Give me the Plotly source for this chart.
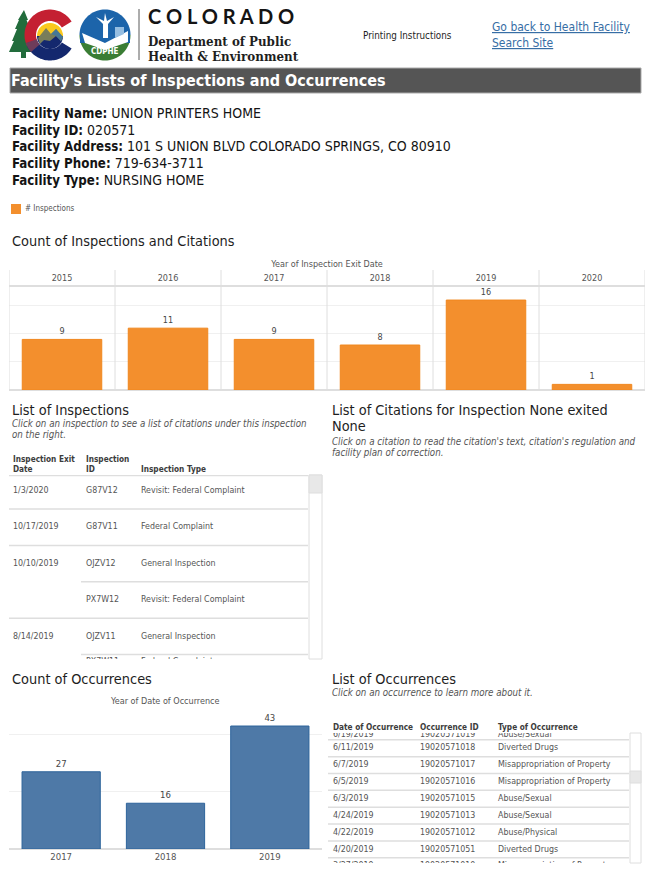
import math
import plotly.graph_objs as go

W = 650
H = 872

FONT = 'DejaVu Sans Condensed, DejaVu Sans, sans-serif'
ORANGE = 'rgb(243,143,45)'
BLUE = 'rgb(78,121,167)'
GRID = 'rgb(240,240,240)'
LINE = 'rgb(222,222,222)'
TXT = 'rgb(85,85,85)'

# top chart
insp_years = ['2015', '2016', '2017', '2018', '2019', '2020']
insp_counts = [9, 11, 9, 8, 16, 1]

# bottom chart
occ_years = ['2017', '2018', '2019']
occ_counts = [27, 16, 43]

# list of inspections (the last row is cut by the scroll area)
insp_rows = [0, 1, 2, 3, 4, 4.69]
insp_dates = ['1/3/2020', '10/17/2019', '10/10/2019', '', '8/14/2019', '']
insp_ids = ['G87V12', 'G87V11', 'OJZV12', 'PX7W12', 'OJZV11', 'PX7W11']
insp_types = ['Revisit: Federal Complaint', 'Federal Complaint', 'General Inspection',
    'Revisit: Federal Complaint', 'General Inspection', 'Federal Complaint']

# list of occurrences (first and last rows are cut)
occ_rows = [0.18, 1, 2, 3, 4, 5, 6, 7, 8]
occ_dates = ['6/19/2019', '6/11/2019', '6/7/2019', '6/5/2019', '6/3/2019',
    '4/24/2019', '4/22/2019', '4/20/2019', '3/27/2019']
occ_ids = ['19020571019', '19020571018', '19020571017', '19020571016', '19020571015',
    '19020571013', '19020571012', '19020571051', '19020571010']
occ_types = ['Abuse/Sexual', 'Diverted Drugs', 'Misappropriation of Property',
    'Misappropriation of Property', 'Abuse/Sexual', 'Abuse/Sexual', 'Abuse/Physical',
    'Diverted Drugs', 'Misappropriation of Property']

facility = [
    ('Facility Name:', 'UNION PRINTERS HOME'),
    ('Facility ID:', '020571'),
    ('Facility Address:', '101 S UNION BLVD COLORADO SPRINGS, CO 80910'),
    ('Facility Phone:', '719-634-3711'),
    ('Facility Type:', 'NURSING HOME'),
]
facility_y = [113, 130, 146, 163, 180]


def px(x):
    return x / W


def py(y):
    return 1 - y / H


def dom_x(a, b):
    return [px(a), px(b)]


def dom_y(top, bottom):
    return [py(bottom), py(top)]


annotations = []
shapes = []


def label(x, y, text, size=10, color='rgb(30,30,30)', anchor='left', family=FONT):
    # annotations keep about 2px of padding on the left
    if anchor == 'left':
        x = x - 2
    annotations.append(dict(x=px(x), y=py(y), xref='paper', yref='paper', text=text, showarrow=False,
        xanchor=anchor, yanchor='middle', align='left', font=dict(family=family, size=size, color=color)))


def rect(x0, y0, x1, y1, fill, line=None, width=1):
    shapes.append(dict(type='rect', xref='paper', yref='paper', x0=px(x0), x1=px(x1), y0=py(y0), y1=py(y1),
        fillcolor=fill, line=dict(color=line or fill, width=width if line else 0)))


def poly(points, fill):
    path = 'M' + 'L'.join('%.4f,%.4f' % (px(a), py(b)) for a, b in points) + 'Z'
    shapes.append(dict(type='path', xref='paper', yref='paper', path=path, fillcolor=fill, line=dict(width=0)))


def sector(cx, cy, r_out, r_in, a0, a1, fill):
    # ring piece, angles in degrees counter clockwise from the right
    steps = 40
    pts = []
    for i in range(steps + 1):
        a = math.radians(a0 + (a1 - a0) * i / steps)
        pts.append((cx + r_out * math.cos(a), cy - r_out * math.sin(a)))
    for i in range(steps, -1, -1):
        a = math.radians(a0 + (a1 - a0) * i / steps)
        pts.append((cx + r_in * math.cos(a), cy - r_in * math.sin(a)))
    poly(pts, fill)


# colorado logo
poly([(24, 10), (28, 20), (26.5, 20), (31, 31), (29, 31), (34, 45), (32, 52), (26, 52), (26, 58), (21, 58),
    (21, 52), (9, 52), (14, 41), (12, 41), (17, 29), (15, 29), (19, 20), (18, 20)], 'rgb(34,108,60)')
sector(50, 35, 25.5, 14, 32, 205, 'rgb(196,32,50)')
sector(50, 35, 25.5, 14, 205, 328, 'rgb(20,40,110)')
sector(50, 35, 25.5, 14, 198, 222, 'rgb(110,60,90)')
sector(50, 36, 13, 0, 0, 180, 'rgb(250,200,30)')
sector(50, 36, 13, 0, 180, 360, 'rgb(20,40,110)')
poly([(38, 38), (46, 28), (51, 34), (56, 29), (63, 37), (61, 41), (56, 36), (50, 41), (44, 40), (40, 44)],
    'rgb(120,125,90)')
poly([(51, 34), (56, 29), (63, 37), (61, 41), (56, 36)], 'rgb(70,120,150)')

# cdphe seal
sector(105, 35, 25.5, 0, 0, 180, 'rgb(28,100,170)')
sector(105, 35, 25.5, 0, 180, 360, 'rgb(58,125,52)')
rect(80, 35, 130, 43, 'rgb(28,100,170)')
poly([(82, 33), (105, 43), (128, 31), (128, 42), (105, 50), (85, 43)], 'white')
poly([(103, 38), (103, 24), (96, 17), (104, 21), (105, 13), (107, 21), (114, 17), (108, 24), (108, 38)], 'white')
poly([(115, 38), (115, 27), (124, 27), (124, 34)], 'rgb(150,190,225)')
label(105, 52, '<b>CDPHE</b>', size=8, color='white', anchor='center')

shapes.append(dict(type='line', xref='paper', yref='paper', x0=px(139), x1=px(139), y0=py(9), y1=py(60),
    line=dict(color='rgb(90,90,90)', width=1)))
label(148, 16, '<b>C O L O R A D O</b>', size=20, color='rgb(20,20,20)', family='Lato, sans-serif')
label(148, 41, '<b>Department of Public</b>', size=13.2, color='rgb(30,30,30)', family='DejaVu Serif Condensed, DejaVu Serif, serif')
label(148, 56, '<b>Health &amp; Environment</b>', size=13.2, color='rgb(30,30,30)', family='DejaVu Serif Condensed, DejaVu Serif, serif')

label(363, 35, 'Printing Instructions', size=9.8)
label(492, 27, '<u>Go back to Health Facility</u>', size=12, color='rgb(55,110,165)')
label(492, 43, '<u>Search Site</u>', size=12, color='rgb(55,110,165)')

# title band
rect(10, 68, 641, 93, 'rgb(85,85,85)', line='rgb(170,170,170)')
label(11, 81, "<b>Facility's Lists of Inspections and Occurrences</b>", size=16, color='white')

for (name, value), y in zip(facility, facility_y):
    label(12, y, '<span style="font-size:13.2px"><b>%s</b></span> %s' % (name, value), size=14, color='rgb(20,20,20)')

# legend
rect(11, 204, 21, 214, ORANGE)
label(25, 209, '# Inspections', size=8, color=TXT)

# section heads
label(12, 241, 'Count of Inspections and Citations', size=14.4)
label(12, 410, 'List of Inspections', size=14.4)
label(12, 423, '<i>Click on an inspection to see a list of citations under this inspection</i>', size=9.7, color=TXT)
label(12, 434, '<i>on the right.</i>', size=9.7, color=TXT)
label(332, 410, 'List of Citations for Inspection None exited', size=14.4)
label(332, 426, 'None', size=14.4)
label(332, 441, "<i>Click on a citation to read the citation's text, citation's regulation and</i>", size=9.7, color=TXT)
label(332, 452, '<i>facility plan of correction.</i>', size=9.7, color=TXT)
label(12, 679, 'Count of Occurrences', size=14.4)
label(332, 679, 'List of Occurrences', size=14.4)
label(332, 692, '<i>Click on an occurrence to learn more about it.</i>', size=9.7, color=TXT)
label(165, 701, 'Year of Date of Occurrence', size=9, color=TXT, anchor='center')

# table heads
for x, y, t in [(13, 459, 'Inspection Exit'), (13, 469, 'Date'), (86, 459, 'Inspection'), (86, 469, 'ID'),
        (141, 469, 'Inspection Type')]:
    label(x, y, '<b>%s</b>' % t, size=8.2, color='rgb(60,60,60)')
for x, t in [(333, 'Date of Occurrence'), (420, 'Occurrence ID'), (498, 'Type of Occurrence')]:
    label(x, 727, '<b>%s</b>' % t, size=8.2, color='rgb(60,60,60)')

# scroll bars
rect(309, 475, 322, 659, 'white', line=LINE)
rect(309, 475, 322, 493, 'rgb(232,232,232)', line=LINE)
rect(630, 733, 641, 863, 'white', line=LINE)
rect(630, 771, 641, 783, 'rgb(232,232,232)', line=LINE)

# year cells of the top chart
for i in range(len(insp_years) + 1):
    shapes.append(dict(type='line', xref='x', yref='paper', x0=i - 0.5, x1=i - 0.5, y0=py(390), y1=py(270),
        line=dict(color=LINE, width=1)))
shapes.append(dict(type='line', xref='paper', yref='paper', x0=px(9), x1=px(645), y0=py(286), y1=py(286),
    line=dict(color=LINE, width=2)))

traces = []
traces.append(go.Bar(x=insp_years, y=insp_counts, xaxis='x', yaxis='y', width=0.75,
    marker=dict(color=ORANGE, line=dict(color='rgb(240,135,30)', width=1)),
    text=insp_counts, textposition='outside', cliponaxis=False,
    textfont=dict(family=FONT, size=9, color='rgb(70,70,70)')))
traces.append(go.Bar(x=occ_years, y=occ_counts, xaxis='x2', yaxis='y2', width=0.75,
    marker=dict(color=BLUE, line=dict(color='rgb(45,100,155)', width=1)),
    text=occ_counts, textposition='outside', cliponaxis=False,
    textfont=dict(family=FONT, size=9.5, color='rgb(70,70,70)')))

# inspection table rows
insp_line_x = []
insp_line_y = []
for i in range(5):
    start = 9 if insp_dates[i + 1] else 81
    insp_line_x += [start, 308, None]
    insp_line_y += [i + 0.5, i + 0.5, None]
insp_line_x += [9, 308]
insp_line_y += [-0.42, -0.42]
traces.append(go.Scatter(x=insp_line_x, y=insp_line_y, xaxis='x3', yaxis='y3', mode='lines',
    line=dict(color=LINE, width=1.5), hoverinfo='skip'))
for xpos, col in [(13, insp_dates), (86, insp_ids), (141, insp_types)]:
    traces.append(go.Scatter(x=[xpos] * len(col), y=insp_rows, xaxis='x3', yaxis='y3', mode='text', text=col,
        textposition='middle right', textfont=dict(family=FONT, size=8.8, color=TXT), cliponaxis=True))

# occurrence table rows
occ_line_x = []
occ_line_y = []
for i in range(len(occ_dates) - 1):
    occ_line_x += [328, 629, None]
    occ_line_y += [i + 0.5, i + 0.5, None]
traces.append(go.Scatter(x=occ_line_x, y=occ_line_y, xaxis='x4', yaxis='y4', mode='lines',
    line=dict(color=LINE, width=1.5), hoverinfo='skip'))
for xpos, col in [(333, occ_dates), (420, occ_ids), (498, occ_types)]:
    traces.append(go.Scatter(x=[xpos] * len(col), y=occ_rows, xaxis='x4', yaxis='y4', mode='text',
        text=col, textposition='middle right', textfont=dict(family=FONT, size=8.8, color=TXT), cliponaxis=True))

hidden = dict(visible=False, fixedrange=True)

layout = go.Layout(
    width=W, height=H, margin=dict(l=0, r=0, t=0, b=0), autosize=False,
    paper_bgcolor='white', plot_bgcolor='white', showlegend=False, bargap=0.25,
    annotations=annotations, shapes=shapes,
    xaxis=dict(domain=dom_x(9, 645), side='top', anchor='y', type='category', range=[-0.5, 5.5], showgrid=False,
        showline=False, ticks='', fixedrange=True, tickfont=dict(family=FONT, size=9, color=TXT), ticklabelstandoff=2,
        title=dict(text='Year of Inspection Exit Date', font=dict(family=FONT, size=9, color=TXT), standoff=4)),
    yaxis=dict(domain=dom_y(286, 390), anchor='x', range=[0, 18.5], tickvals=[0, 5, 10, 15], showticklabels=False,
        gridcolor=GRID, zeroline=True, zerolinecolor=LINE, zerolinewidth=2, fixedrange=True),
    xaxis2=dict(domain=dom_x(9, 322), anchor='y2', type='category', range=[-0.5, 2.5], showgrid=False,
        showline=False, ticks='', fixedrange=True, tickfont=dict(family=FONT, size=9.5, color=TXT)),
    yaxis2=dict(domain=dom_y(708, 849), anchor='x2', range=[0, 49.3], tickvals=[0, 20, 40], showticklabels=False,
        gridcolor=GRID, zeroline=True, zerolinecolor=LINE, zerolinewidth=1.5, fixedrange=True),
    xaxis3=dict(domain=dom_x(9, 308), anchor='y3', range=[9, 308], **hidden),
    yaxis3=dict(domain=dom_y(475, 659), anchor='x3', range=[(659 - 490.8) / 36.4, (475 - 490.8) / 36.4], **hidden),
    xaxis4=dict(domain=dom_x(328, 629), anchor='y4', range=[328, 629], **hidden),
    yaxis4=dict(domain=dom_y(733, 863), anchor='x4', range=[(863 - 731.4) / 16.85, (733 - 731.4) / 16.85], **hidden),
)

fig = go.Figure(data=traces, layout=layout)
fig.write_html('out.html', config=dict(displayModeBar=False), post_script="document.body.style.margin='0';")
